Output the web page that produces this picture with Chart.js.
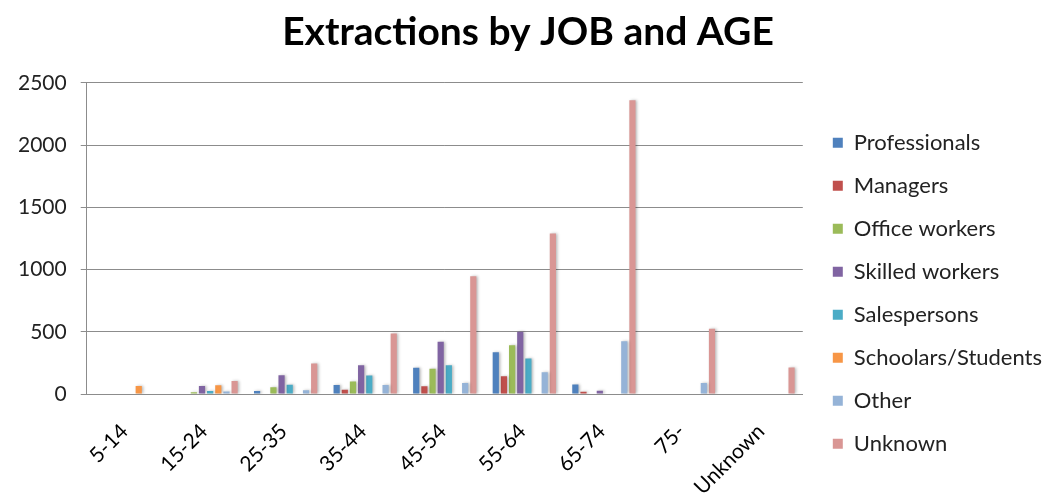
<!DOCTYPE html>
<html>
<head>
<meta charset="utf-8">
<script src="https://cdn.jsdelivr.net/npm/chart.js@4/dist/chart.umd.min.js"></script>
<style>
  html, body { margin: 0; padding: 0; background: #fff; }
  #wrap { width: 1054px; height: 495px; position: relative; }
</style>
</head>
<body>
<div id="wrap"><canvas id="c"></canvas></div>
<script>
// Age groups along the x axis
const ageGroups = ['5-14', '15-24', '25-35', '35-44', '45-54', '55-64', '65-74', '75-', 'Unknown'];

// Extractions per job category, one value per age group
const professionals     = [0, 0, 25, 73, 211, 335, 76, 0, 0];
const managers          = [0, 0, 0, 35, 62, 143, 19, 0, 0];
const officeWorkers     = [0, 15, 55, 100, 203, 392, 0, 0, 0];
const skilledWorkers    = [0, 65, 150, 230, 419, 500, 27, 0, 0];
const salespersons      = [0, 25, 75, 149, 230, 286, 0, 0, 0];
const schoolarsStudents = [65, 70, 0, 0, 0, 0, 0, 0, 0];
const other             = [0, 20, 30, 73, 89, 175, 424, 89, 0];
const unknownJob        = [0, 105, 245, 487, 946, 1290, 2360, 524, 212];

const yTicks = [0, 500, 1000, 1500, 2000, 2500];

const seriesNames = ['Professionals', 'Managers', 'Office workers', 'Skilled workers',
                     'Salespersons', 'Schoolars/Students', 'Other', 'Unknown'];
const seriesData = [professionals, managers, officeWorkers, skilledWorkers,
                    salespersons, schoolarsStudents, other, unknownJob];
const seriesColors = ['#4F81BD', '#C0504D', '#9BBB59', '#8064A2',
                      '#4BACC6', '#F79646', '#95B3D7', '#D99694'];

const FONT = "Lato, 'Open Sans', sans-serif";

// soft drop shadow behind the bars
const barShadow = {
  id: 'barShadow',
  beforeDatasetsDraw(chart) {
    const ctx = chart.ctx;
    ctx.save();
    ctx.shadowColor = 'rgba(0,0,0,0.28)';
    ctx.shadowBlur = 3;
    ctx.shadowOffsetX = 1.5;
    ctx.shadowOffsetY = 0;
  },
  afterDatasetsDraw(chart) {
    chart.ctx.restore();
  }
};

new Chart(document.getElementById('c'), {
  type: 'bar',
  data: {
    labels: ageGroups,
    datasets: seriesNames.map((name, i) => ({
      label: name,
      data: seriesData[i],
      backgroundColor: seriesColors[i],
      borderWidth: 0,
      categoryPercentage: 0.82,
      barPercentage: 0.76
    }))
  },
  options: {
    responsive: true,
    maintainAspectRatio: false,
    animation: false,
    devicePixelRatio: 1,
    layout: { padding: { left: 4, right: 2, top: 4, bottom: 0 } },
    plugins: {
      title: {
        display: true,
        text: 'Extractions by JOB and AGE',
        color: '#000',
        font: { family: FONT, size: 39, weight: 'bold' },
        padding: { top: 5, bottom: 27 }
      },
      legend: {
        position: 'right',
        align: 'center',
        maxWidth: 320,
        title: { display: true, text: ' ', padding: 33, font: { size: 18 } },
        labels: {
          color: '#222',
          font: { family: FONT, size: 22 },
          boxWidth: 10,
          boxHeight: 10,
          padding: 21
        }
      },
      tooltip: { enabled: false }
    },
    scales: {
      x: {
        grid: { display: false, drawTicks: false },
        border: { color: '#8c8c8c', width: 1 },
        ticks: {
          color: '#000',
          font: { family: FONT, size: 21 },
          maxRotation: 45,
          minRotation: 45,
          padding: 25,
          labelOffset: -2
        },
        // fixed band under the plot; long rotated labels may run off the bottom
        afterFit(axis) { axis.height = 101; }
      },
      y: {
        min: 0,
        max: 2500,
        afterBuildTicks(axis) { axis.ticks = yTicks.map(v => ({ value: v })); },
        grid: { color: '#8c8c8c', lineWidth: 1, tickLength: 6 },
        border: { color: '#8c8c8c', width: 1 },
        ticks: {
          color: '#222',
          font: { family: FONT, size: 21 },
          padding: 14,
          callback: v => String(v)
        }
      },
      // empty right-hand axis that keeps a gap between plot and legend
      gap: {
        type: 'linear',
        position: 'right',
        display: true,
        grid: { display: false, drawTicks: false },
        border: { display: false },
        ticks: { display: false },
        afterFit(axis) { axis.width = 9; }
      }
    }
  },
  plugins: [barShadow]
});
</script>
</body>
</html>
